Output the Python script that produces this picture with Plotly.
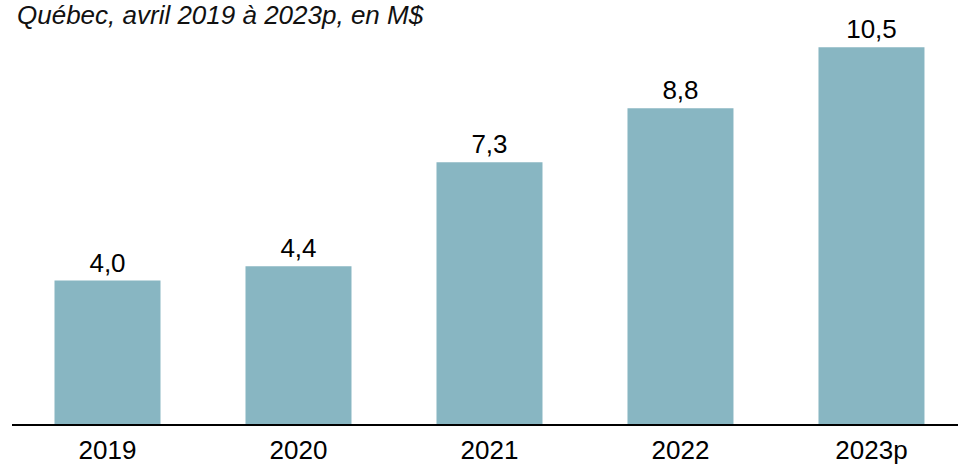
import plotly.graph_objects as go

categories = ["2019", "2020", "2021", "2022", "2023p"]
values = [4.0, 4.4, 7.3, 8.8, 10.5]
title_text = "Québec, avril 2019 à 2023p, en M$"

FONT = "Arial, 'Liberation Sans', sans-serif"
BAR_COLOR = "#88B6C2"

fig = go.Figure(
    go.Bar(
        x=categories,
        y=values,
        marker=dict(color=BAR_COLOR, line=dict(width=0)),
        texttemplate="%{y:.1f}",
        textposition="outside",
        textfont=dict(family=FONT, size=26, color="#000000"),
        cliponaxis=False,
        hoverinfo="skip",
    )
)

fig.update_layout(
    width=958,
    height=464,
    margin=dict(l=12, r=0, t=0, b=40, autoexpand=False),
    paper_bgcolor="white",
    plot_bgcolor="white",
    separators=", ",
    bargap=0.445,
    showlegend=False,
    font=dict(family=FONT, color="#000000"),
    annotations=[
        dict(
            text="<i>" + title_text + "</i>",
            xref="paper", yref="paper",
            x=0.003, y=1.0,
            xanchor="left", yanchor="top",
            yshift=2,
            showarrow=False,
            font=dict(family=FONT, size=26, color="#111111"),
        )
    ],
)

fig.update_xaxes(
    type="category",
    range=[-0.5, 4.453],
    showline=True,
    linecolor="#000000",
    linewidth=1.5,
    showgrid=False,
    zeroline=False,
    ticks="",
    ticklabelstandoff=2,
    tickfont=dict(family=FONT, size=26, color="#000000"),
    fixedrange=True,
)

fig.update_yaxes(
    range=[0, 11.82],
    visible=False,
    showgrid=False,
    zeroline=False,
    fixedrange=True,
)

fig.write_html(
    "out.html",
    config={"displayModeBar": False, "staticPlot": True},
    post_script="document.body.style.margin='0';document.body.style.overflow='hidden';",
)
